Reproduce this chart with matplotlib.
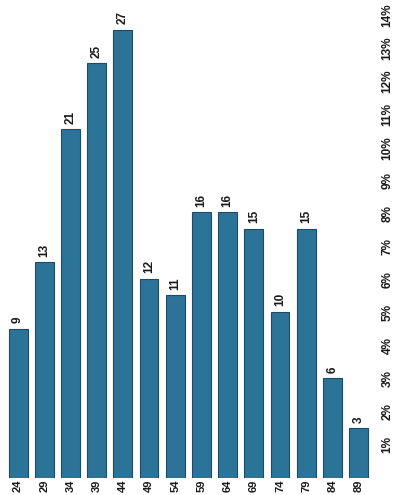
import numpy as np
import matplotlib.pyplot as plt

# age-group tick labels; only the upper ends show on the scan
age_group_ends = ["24", "29", "34", "39", "44", "49", "54",
                  "59", "64", "69", "74", "79", "84", "89"]
counts = [9, 13, 21, 25, 27, 12, 11, 16, 16, 15, 10, 15, 6, 3]
pct_ticks = list(range(1, 15))

plt.rcParams['font.family'] = ['Liberation Sans', 'DejaVu Sans']
plt.rcParams['font.weight'] = 'bold'

fig = plt.figure(figsize=(4.06, 4.95), dpi=100)
ax = fig.add_axes([0, 17 / 495, 372 / 406, 478 / 495])

x = np.arange(len(counts))
bars = ax.bar(x, counts, width=0.72, color='#2c7398',
              edgecolor='#1d4a66', linewidth=0.8)
ax.bar_label(bars, labels=[str(c) for c in counts], rotation=90,
             padding=4, fontsize=8.5, color='#1a1a1a')

ax.set_xlim(-0.69, 13.51)
ax.set_ylim(0, 28.8)
ax.set_xticks(x, age_group_ends, rotation=90, fontsize=8, color='#1a1a1a')
ax.tick_params(axis='x', length=0, pad=1)
ax.set_yticks([])
for s in ax.spines.values():
    s.set_visible(False)

# share of all respondents, on the right
total = sum(counts)
sec = ax.secondary_yaxis('right', functions=(lambda v: v / total * 100,
                                             lambda p: p * total / 100))
sec.set_yticks(pct_ticks, [f"{p}%" for p in pct_ticks])
sec.tick_params(length=0, pad=7, labelsize=8.5, labelrotation=90,
                labelcolor='#1a1a1a')
for lbl in sec.get_yticklabels():
    lbl.set_va('center')
sec.spines['right'].set_visible(False)

fig.savefig('out.png', dpi=100)
